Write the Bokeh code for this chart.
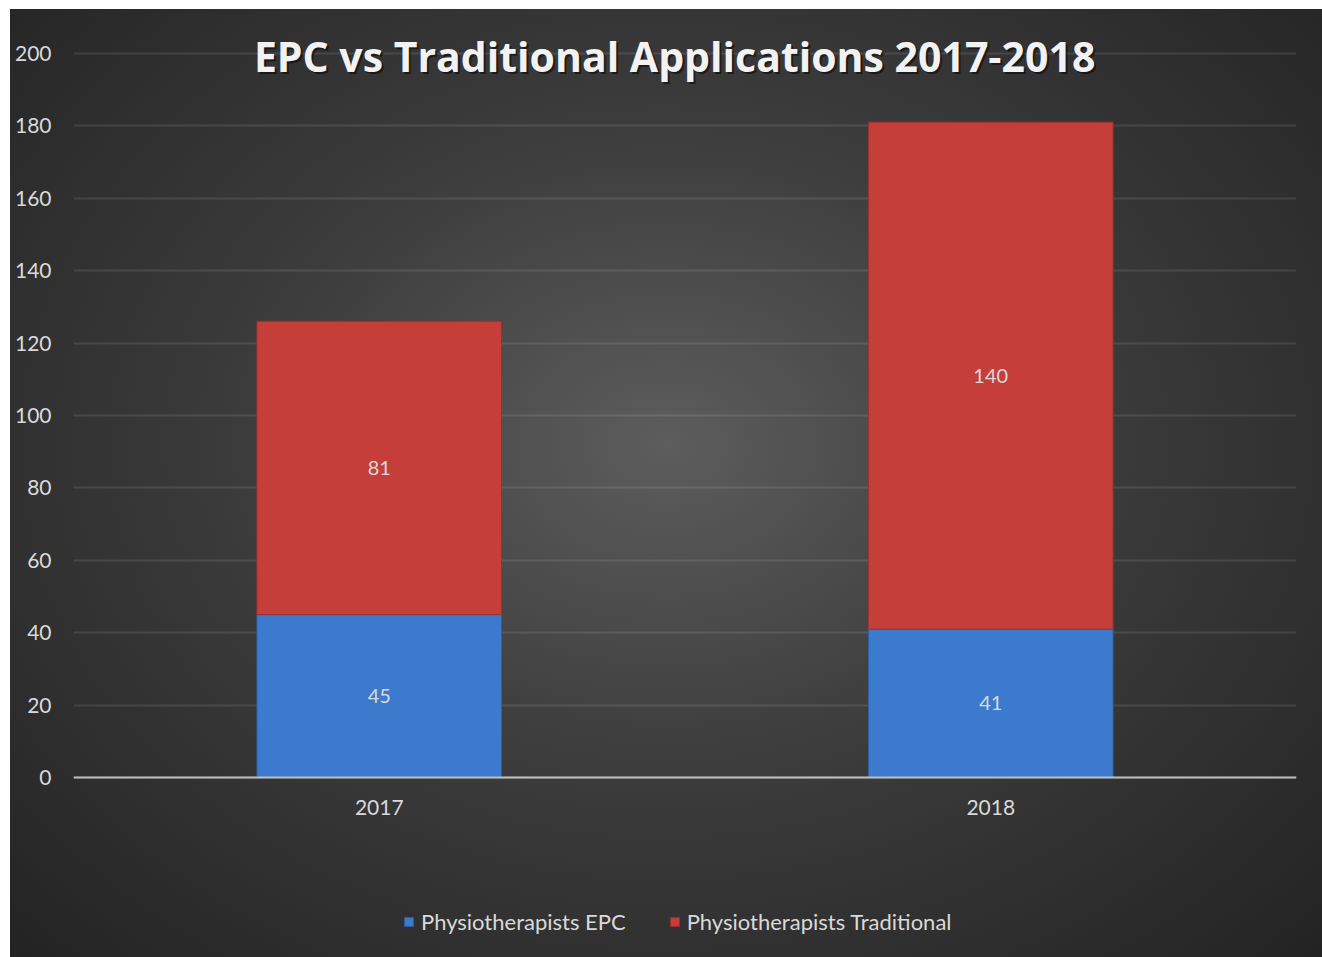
from bokeh.plotting import figure
from bokeh.models import Range1d, FixedTicker, Label, Legend, LegendItem, ColumnDataSource
from bokeh.embed import file_html
from bokeh.resources import INLINE

# ---- data ----
years = ["2017", "2018"]
epc = [45, 41]
traditional = [81, 140]
series_names = ["Physiotherapists EPC", "Physiotherapists Traditional"]
y_ticks = [0, 20, 40, 60, 80, 100, 120, 140, 160, 180, 200]
title_text = "EPC vs Traditional Applications 2017-2018"

FONT = "Lato"
LABEL_COLOR = "#d9d9d9"

xs = [i + 0.5 for i in range(len(years))]
trad_top = [a + b for a, b in zip(epc, traditional)]

src = ColumnDataSource(dict(
    x=xs, epc_top=epc, trad_bottom=epc, trad_top=trad_top,
    epc_mid=[v / 2 for v in epc],
    trad_mid=[b + t / 2 for b, t in zip(epc, traditional)],
    epc_lbl=[str(v) for v in epc],
    trad_lbl=[str(v) for v in traditional],
))

p = figure(width=1312, height=948, output_backend="svg", toolbar_location=None,
           title=None, x_range=Range1d(0, len(years)), y_range=Range1d(-49.7, 211),
           min_border_left=63, min_border_right=26, min_border_top=4, min_border_bottom=0)
p.margin = (9, 0, 0, 10)

p.background_fill_alpha = 0
p.border_fill_alpha = 0
p.outline_line_color = None
p.styles = {"background": "radial-gradient(ellipse farthest-corner at 50% 46%, #5d5d5d 0%, #3c3c3c 45%, #232323 100%)"}

# bars
r_epc = p.vbar(x="x", bottom=0, top="epc_top", width=0.4, source=src,
               fill_color="#3c7acd", line_color="#2d60a3", line_width=1)
r_trad = p.vbar(x="x", bottom="trad_bottom", top="trad_top", width=0.4, source=src,
                fill_color="#c63e3a", line_color="#9e302e", line_width=1)

# data labels
for ycol, tcol in (("epc_mid", "epc_lbl"), ("trad_mid", "trad_lbl")):
    p.text(x="x", y=ycol, text=tcol, source=src, text_align="center", text_baseline="middle",
           text_color=LABEL_COLOR, text_font_size="20px", text_font={"value": FONT})

# axes
p.xaxis.fixed_location = 0
p.xaxis.ticker = FixedTicker(ticks=xs)
p.xaxis.major_label_overrides = {x: y for x, y in zip(xs, years)}
p.xaxis.major_tick_line_color = None
p.xaxis.major_tick_out = 0
p.xaxis.major_tick_in = 0
p.xaxis.minor_tick_line_color = None
p.xaxis.axis_line_color = "#bfbfbf"
p.xaxis.axis_line_width = 2
p.xaxis.major_label_text_color = LABEL_COLOR
p.xaxis.major_label_text_font = FONT
p.xaxis.major_label_text_font_size = "21px"
p.xaxis.major_label_standoff = 22

p.yaxis.ticker = FixedTicker(ticks=y_ticks)
p.yaxis.axis_line_color = None
p.yaxis.major_tick_line_color = None
p.yaxis.major_tick_out = 0
p.yaxis.major_tick_in = 0
p.yaxis.minor_tick_line_color = None
p.yaxis.major_label_text_color = LABEL_COLOR
p.yaxis.major_label_text_font = FONT
p.yaxis.major_label_text_font_size = "21px"
p.yaxis.major_label_standoff = 22

p.xgrid.grid_line_color = None
p.ygrid.ticker = FixedTicker(ticks=y_ticks)
p.ygrid.grid_line_color = "white"
p.ygrid.grid_line_alpha = 0.1
p.ygrid.grid_line_width = 2

# title with shadow
for dx, dy, col, alpha in ((2, -2, "black", 0.5), (0, 0, "#f2f2f2", 1.0)):
    p.add_layout(Label(x=0.983, y=199.2, text=title_text, text_align="center", text_baseline="middle",
                       x_offset=dx, y_offset=dy, text_color=col, text_alpha=alpha,
                       text_font="Open Sans", text_font_style="bold", text_font_size="41px"))

legend = Legend(items=[LegendItem(label=series_names[0], renderers=[r_epc]),
                       LegendItem(label=series_names[1], renderers=[r_trad])],
                orientation="horizontal", location=(330, 22),
                glyph_width=11, glyph_height=11, label_standoff=7, spacing=43,
                padding=0, margin=0, background_fill_alpha=0, border_line_color=None,
                label_text_color=LABEL_COLOR, label_text_font=FONT, label_text_font_size="22px")
p.add_layout(legend, "center")

open("out.html", "w").write(file_html(p, INLINE))
